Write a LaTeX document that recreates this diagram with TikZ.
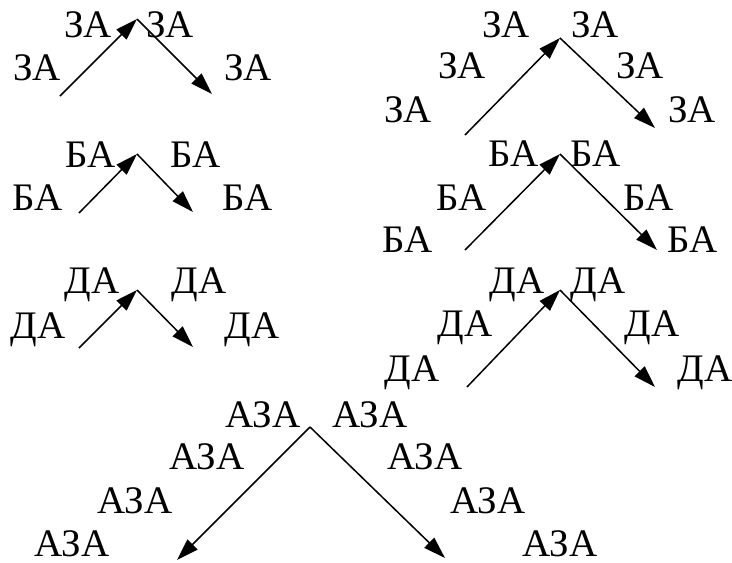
\documentclass[tikz,border=0pt]{standalone}
\usepackage{fontspec}
\setmainfont{Liberation Serif}
\usetikzlibrary{arrows.meta}
\tikzset{
  lbl/.style={anchor=base, inner sep=0pt, font=\fontsize{39}{39}\selectfont},
  arr/.style={line width=1.5pt, -{Triangle[length=22pt,width=14pt]}}
}
\begin{document}
\begin{tikzpicture}[x=1pt,y=-1pt]
\useasboundingbox (0,0) rectangle (732,563);
% top-left
\node[lbl] (za1) at (37,80) {ЗА};
\node[lbl] (za2) at (88,37) {ЗА};
\node[lbl] (za3) at (170,37) {ЗА};
\node[lbl] (za4) at (248,80) {ЗА};
\coordinate (s1) at (60,96); \coordinate (p1) at (137,19); \coordinate (e1) at (212,94);
\draw[arr] (s1) -- (p1);
\draw[arr] (p1) -- (e1);
% top-right
\node[lbl] (zb1) at (506,37) {ЗА};
\node[lbl] (zb2) at (595,37) {ЗА};
\node[lbl] (zb3) at (462,78) {ЗА};
\node[lbl] (zb4) at (640,78) {ЗА};
\node[lbl] (zb5) at (408,122) {ЗА};
\node[lbl] (zb6) at (692,122) {ЗА};
\coordinate (s2) at (465,135); \coordinate (p2) at (560,38); \coordinate (e2) at (655,128);
\draw[arr] (s2) -- (p2);
\draw[arr] (p2) -- (e2);
% middle-left BA
\node[lbl] (ba1) at (38,210) {БА};
\node[lbl] (ba2) at (91,167) {БА};
\node[lbl] (ba3) at (196,167) {БА};
\node[lbl] (ba4) at (248,210) {БА};
\coordinate (s3) at (79,213); \coordinate (p3) at (137,154); \coordinate (e3) at (193,212);
\draw[arr] (s3) -- (p3);
\draw[arr] (p3) -- (e3);
% middle-left DA
\node[lbl] (da1) at (38,338) {ДА};
\node[lbl] (da2) at (92,293) {ДА};
\node[lbl] (da3) at (199,293) {ДА};
\node[lbl] (da4) at (252,338) {ДА};
\coordinate (s4) at (79,348); \coordinate (p4) at (137,290); \coordinate (e4) at (193,347);
\draw[arr] (s4) -- (p4);
\draw[arr] (p4) -- (e4);
% middle-right BA
\node[lbl] (bb1) at (514,166) {БА};
\node[lbl] (bb2) at (596,166) {БА};
\node[lbl] (bb3) at (462,210) {БА};
\node[lbl] (bb4) at (649,210) {БА};
\node[lbl] (bb5) at (408,252) {БА};
\node[lbl] (bb6) at (693,252) {БА};
\coordinate (s5) at (465,250); \coordinate (p5) at (560,154); \coordinate (e5) at (657,250);
\draw[arr] (s5) -- (p5);
\draw[arr] (p5) -- (e5);
% middle-right DA
\node[lbl] (db1) at (517,293) {ДА};
\node[lbl] (db2) at (598,293) {ДА};
\node[lbl] (db3) at (465,336) {ДА};
\node[lbl] (db4) at (652,336) {ДА};
\node[lbl] (db5) at (412,381) {ДА};
\node[lbl] (db6) at (705,381) {ДА};
\coordinate (s6) at (467,387); \coordinate (p6) at (560,290); \coordinate (e6) at (655,387);
\draw[arr] (s6) -- (p6);
\draw[arr] (p6) -- (e6);
% bottom AZA
\node[lbl] (aza1) at (263,427) {АЗА};
\node[lbl] (aza2) at (370,427) {АЗА};
\node[lbl] (aza3) at (207,469) {АЗА};
\node[lbl] (aza4) at (425,469) {АЗА};
\node[lbl] (aza5) at (135,513) {АЗА};
\node[lbl] (aza6) at (488,513) {АЗА};
\node[lbl] (aza7) at (72,556) {АЗА};
\node[lbl] (aza8) at (560,556) {АЗА};
\coordinate (p7) at (310,427); \coordinate (e7) at (177,560); \coordinate (e8) at (445,558);
\draw[arr] (p7) -- (e7);
\draw[arr] (p7) -- (e8);
\end{tikzpicture}
\end{document}
